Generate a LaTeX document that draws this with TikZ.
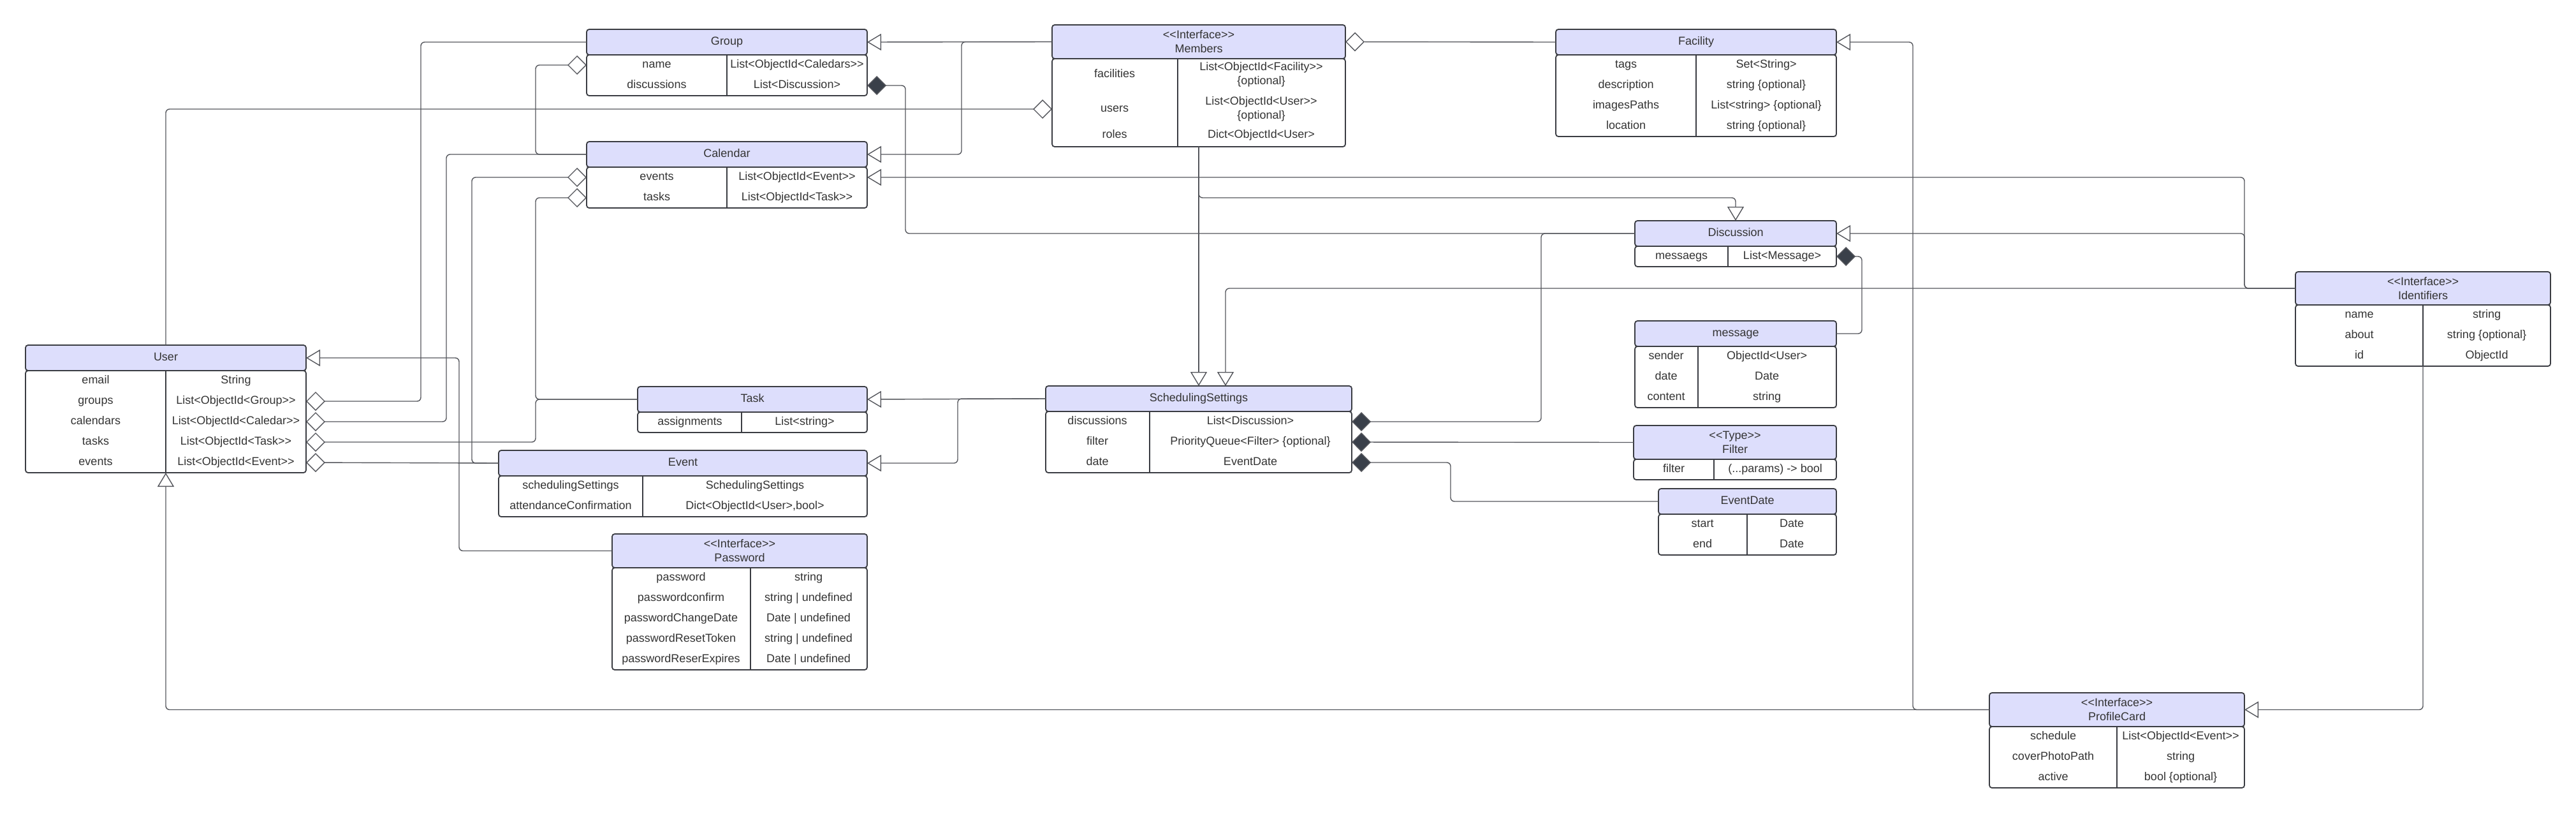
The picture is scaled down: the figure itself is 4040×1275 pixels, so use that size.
\documentclass[tikz,border=0pt]{standalone}
\usepackage{fontspec}
\setmainfont{Liberation Sans}[Ligatures=TeXOff]
\usepackage{tikz}
\usetikzlibrary{arrows.meta, positioning}
\definecolor{headfill}{RGB}{221,222,252}
\definecolor{boxline}{RGB}{58,60,66}
\definecolor{linkline}{RGB}{84,86,92}
\definecolor{textgray}{RGB}{51,51,51}
\definecolor{solidtip}{RGB}{58,64,74}

\begin{document}
\begin{tikzpicture}[x=1pt, y=-1pt, font=\fontsize{18}{22}\selectfont, text=textgray,
    txt/.style={text height=13pt, text depth=4pt},
    twohead/.style={draw=boxline, fill=headfill, line width=1.8pt, rounded corners=4pt, anchor=north, inner sep=0pt, outer sep=0pt, align=center},
    head/.style={twohead, txt},
    body/.style={draw=boxline, fill=white, line width=1.8pt, rounded corners=4pt, inner sep=0pt, outer sep=0pt},
    cell/.style={inner sep=0pt, txt},
    twocell/.style={inner sep=0pt, align=center},
    divline/.style={draw=boxline, line width=1.3pt},
    link/.style={draw=linkline, line width=1.4pt, rounded corners=6pt},
    gen/.style={link, -{Triangle[open, length=22pt, width=26pt]}},
    agg/.style={link, {Diamond[open, length=30pt, width=30pt]}-},
    comp/.style={link, {Diamond[fill=solidtip, length=30pt, width=30pt]}-}]
    \useasboundingbox (0,0) rectangle (4040,1275);

    % Group
    \node[head, minimum width=440, minimum height=40] (group) at (1140,46) {Group};
    \node[body, minimum width=440, minimum height=64, below=0pt of group] (group-b) {};
    \draw[divline] (1140,86) -- (1140,150);
    \foreach \k/\v [count=\i] in {name/{List<ObjectId<Caledars>>}, discussions/{List<Discussion>}} {
        \node[cell] (group-\k) at (1030,70+32*\i) {\k};
        \node[cell] at (1250,70+32*\i) {\v};
    }

    % Calendar
    \node[head, minimum width=440, minimum height=40] (calendar) at (1140,222) {Calendar};
    \node[body, minimum width=440, minimum height=64, below=0pt of calendar] (calendar-b) {};
    \draw[divline] (1140,262) -- (1140,326);
    \foreach \k/\v [count=\i] in {events/{List<ObjectId<Event>>}, tasks/{List<ObjectId<Task>>}} {
        \node[cell] (calendar-\k) at (1030,246+32*\i) {\k};
        \node[cell] at (1250,246+32*\i) {\v};
    }

    % Members
    \node[twohead, minimum width=460, minimum height=53] (members) at (1880,39) {<<Interface>>\\Members};
    \node[body, minimum width=460, minimum height=138, below=0pt of members] (members-b) {};
    \draw[divline] (1847,92) -- (1847,230);
    \node[cell] (members-facilities) at (1748,117) {facilities};
    \node[twocell] at (1978,117) {List<ObjectId<Facility>>\\\{optional\}};
    \node[cell] (members-users) at (1748,171) {users};
    \node[twocell] at (1978,171) {List<ObjectId<User>>\\\{optional\}};
    \node[cell] (members-roles) at (1748,212) {roles};
    \node[cell] at (1978,212) {Dict<ObjectId<User>};

    % Facility
    \node[head, minimum width=440, minimum height=40] (facility) at (2660,46) {Facility};
    \node[body, minimum width=440, minimum height=128, below=0pt of facility] (facility-b) {};
    \draw[divline] (2660,86) -- (2660,214);
    \foreach \k/\v [count=\i] in {tags/{Set<String>}, description/{string \{optional\}}, imagesPaths/{List<string> \{optional\}}, location/{string \{optional\}}} {
        \node[cell] (facility-\k) at (2550,70+32*\i) {\k};
        \node[cell] at (2770,70+32*\i) {\v};
    }

    % Discussion
    \node[head, minimum width=316, minimum height=40] (discussion) at (2722,346) {Discussion};
    \node[body, minimum width=316, minimum height=32, below=0pt of discussion] (discussion-b) {};
    \draw[divline] (2710,386) -- (2710,418);
    \node[cell] (discussion-messaegs) at (2637,402) {messaegs};
    \node[cell] at (2795,402) {List<Message>};

    % message
    \node[head, minimum width=316, minimum height=40] (message) at (2722,503) {message};
    \node[body, minimum width=316, minimum height=96, below=0pt of message] (message-b) {};
    \draw[divline] (2663,543) -- (2663,639);
    \foreach \k/\v [count=\i] in {sender/{ObjectId<User>}, date/Date, content/string} {
        \node[cell] (message-\k) at (2613,527+32*\i) {\k};
        \node[cell] at (2771,527+32*\i) {\v};
    }

    % Identifiers
    \node[twohead, minimum width=400, minimum height=52] (identifiers) at (3800,426) {<<Interface>>\\Identifiers};
    \node[body, minimum width=400, minimum height=96, below=0pt of identifiers] (identifiers-b) {};
    \draw[divline] (3800,478) -- (3800,574);
    \foreach \k/\v [count=\i] in {name/string, about/{string \{optional\}}, id/ObjectId} {
        \node[cell] (identifiers-\k) at (3700,462+32*\i) {\k};
        \node[cell] at (3900,462+32*\i) {\v};
    }

    % User
    \node[head, minimum width=440, minimum height=40] (user) at (260,541) {User};
    \node[body, minimum width=440, minimum height=160, below=0pt of user] (user-b) {};
    \draw[divline] (260,581) -- (260,741);
    \foreach \k/\v [count=\i] in {email/String, groups/{List<ObjectId<Group>>}, calendars/{List<ObjectId<Caledar>>}, tasks/{List<ObjectId<Task>>}, events/{List<ObjectId<Event>>}} {
        \node[cell] (user-\k) at (150,565+32*\i) {\k};
        \node[cell] at (370,565+32*\i) {\v};
    }

    % Task
    \node[head, minimum width=360, minimum height=40] (task) at (1180,606) {Task};
    \node[body, minimum width=360, minimum height=32, below=0pt of task] (task-b) {};
    \draw[divline] (1163,646) -- (1163,678);
    \node[cell] (task-assignments) at (1082,662) {assignments};
    \node[cell] at (1262,662) {List<string>};

    % Event
    \node[head, minimum width=578, minimum height=40] (event) at (1071,706) {Event};
    \node[body, minimum width=578, minimum height=64, below=0pt of event] (event-b) {};
    \draw[divline] (1008,746) -- (1008,810);
    \foreach \k/\v [count=\i] in {schedulingSettings/SchedulingSettings, attendanceConfirmation/{Dict<ObjectId<User>,bool>}} {
        \node[cell] (event-\k) at (895,730+32*\i) {\k};
        \node[cell] at (1184,730+32*\i) {\v};
    }

    % SchedulingSettings
    \node[head, minimum width=480, minimum height=40] (sched) at (1880,605) {SchedulingSettings};
    \node[body, minimum width=480, minimum height=96, below=0pt of sched] (sched-b) {};
    \draw[divline] (1803,645) -- (1803,741);
    \foreach \k/\v [count=\i] in {discussions/{List<Discussion>}, filter/{PriorityQueue<Filter> \{optional\}}, date/EventDate} {
        \node[cell] (sched-\k) at (1721,629+32*\i) {\k};
        \node[cell] at (1961,629+32*\i) {\v};
    }

    % Filter
    \node[twohead, minimum width=318, minimum height=53] (filter) at (2721,667) {<<Type>>\\Filter};
    \node[body, minimum width=318, minimum height=32, below=0pt of filter] (filter-b) {};
    \draw[divline] (2688,720) -- (2688,752);
    \node[cell] (filter-filter) at (2625,736) {filter};
    \node[cell] at (2784,736) {(...params) -> bool};

    % EventDate
    \node[head, minimum width=279, minimum height=40] (eventdate) at (2740.5,766) {EventDate};
    \node[body, minimum width=279, minimum height=64, below=0pt of eventdate] (eventdate-b) {};
    \draw[divline] (2740,806) -- (2740,870);
    \foreach \k/\v [count=\i] in {start/Date, end/Date} {
        \node[cell] (eventdate-\k) at (2670,790+32*\i) {\k};
        \node[cell] at (2810,790+32*\i) {\v};
    }

    % Password
    \node[twohead, minimum width=400, minimum height=53] (password) at (1160,837) {<<Interface>>\\Password};
    \node[body, minimum width=400, minimum height=160, below=0pt of password] (password-b) {};
    \draw[divline] (1177,890) -- (1177,1050);
    \foreach \k/\v [count=\i] in {password/string, passwordconfirm/{string | undefined}, passwordChangeDate/{Date | undefined}, passwordResetToken/{string | undefined}, passwordReserExpires/{Date | undefined}} {
        \node[cell] (password-\k) at (1068,874+32*\i) {\k};
        \node[cell] at (1268,874+32*\i) {\v};
    }

    % ProfileCard
    \node[twohead, minimum width=400, minimum height=53] (profile) at (3320,1086) {<<Interface>>\\ProfileCard};
    \node[body, minimum width=400, minimum height=96, below=0pt of profile] (profile-b) {};
    \draw[divline] (3320,1139) -- (3320,1235);
    \foreach \k/\v [count=\i] in {schedule/{List<ObjectId<Event>>}, coverPhotoPath/string, active/{bool \{optional\}}} {
        \node[cell] (profile-\k) at (3220,1123+32*\i) {\k};
        \node[cell] at (3420,1123+32*\i) {\v};
    }

    % Inheritance links
    \draw[gen] (members.west) -- (group.east);
    \draw[gen] (members.west) -- +(-142,0) |- (calendar.east);
    \draw[gen] (members-b.south) -- (sched.north);
    \draw[gen] (members-b.south) -- +(0,80) -| (discussion.north);
    \draw[gen] (identifiers.west) -- +(-80,0) |- (calendar-b.east |- calendar-events);
    \draw[gen] (identifiers.west) -- +(-80,0) |- (discussion.east);
    \draw[gen] (identifiers.west) -| ([xshift=42pt]sched.north);
    \draw[gen] (identifiers-b.south) |- (profile.east);
    \draw[gen] (sched.west) -- (task.east);
    \draw[gen] (sched.west) -- +(-138,0) |- (event.east);
    \draw[gen] (password.west) -- +(-240,0) |- (user.east);
    \draw[gen] (profile.west) -| (user-b.south);
    \draw[gen] (profile.west) -- +(-120,0) |- (facility.east);

    % Aggregation links
    \draw[agg] (members.east) -- (facility.west);
    \draw[agg] (members-b.west |- members-users) -| (user.north);
    \draw[agg] (user-b.east |- user-groups) -- +(180,0) |- (group.west);
    \draw[agg] (user-b.east |- user-calendars) -- +(220,0) |- (calendar.west);
    \draw[agg] (user-b.east |- user-tasks) -- +(360,0) |- (task.west);
    \draw[agg] (user-b.east |- user-events) -- (event.west);
    \draw[agg] (group-b.west |- group-name) -- +(-80,0) |- (calendar.west);
    \draw[agg] (calendar-b.west |- calendar-tasks) -- +(-80,0) |- (task.west);
    \draw[agg] (calendar-b.west |- calendar-events) -- +(-180,0) |- (event.west);

    % Composition links
    \draw[comp] (group-b.east |- group-discussions) -- +(60,0) |- (discussion.west);
    \draw[comp] (sched-b.east |- sched-discussions) -- +(297,0) |- (discussion.west);
    \draw[comp] (discussion-b.east |- discussion-messaegs) -- +(40,0) |- (message.east);
    \draw[comp] (sched-b.east |- sched-filter) -- (filter.west);
    \draw[comp] (sched-b.east |- sched-date) -- +(155,0) |- (eventdate.west);
\end{tikzpicture}
\end{document}
